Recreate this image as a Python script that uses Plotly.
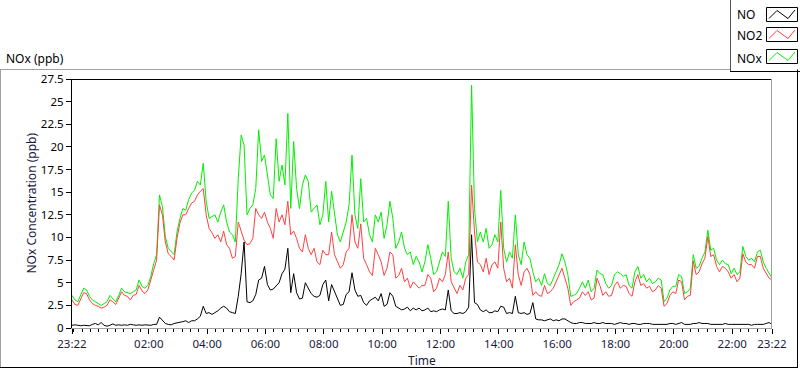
import pandas as pd
import plotly.graph_objects as go

# ---------------- data (6-minute samples from 23:22) ----------------
start_time = "2024-01-01 23:22"
sample_minutes = 6

nox_ppb = [
    3.6, 3.1, 2.9, 3.6, 4.4, 4.2, 3.5, 3.1, 2.9, 2.7,
    2.5, 2.7, 2.9, 3.6, 3.3, 2.9, 3.6, 4.4, 4.0, 3.9,
    3.8, 4.0, 4.2, 5.3, 4.6, 4.4, 4.7, 5.7, 7.1, 8.1,
    14.7, 13.4, 10.1, 8.8, 8.4, 8.1, 10.6, 12.1, 13.2, 13.0,
    14.2, 14.9, 15.2, 16.2, 15.8, 18.2, 14.0, 12.1, 12.3, 12.5,
    11.7, 12.8, 13.6, 11.7, 10.6, 10.3, 9.5, 16.5, 21.3, 20.2,
    12.5, 13.2, 13.6, 15.4, 21.9, 18.4, 19.1, 16.9, 14.7, 14.3,
    20.9, 16.2, 18.0, 15.8, 23.7, 13.2, 20.6, 15.4, 13.2, 15.8,
    16.9, 16.2, 12.8, 13.2, 13.6, 11.4, 12.5, 16.2, 11.7, 15.1,
    12.8, 10.3, 9.5, 10.6, 11.7, 13.6, 19.1, 12.5, 11.0, 16.5,
    11.7, 12.1, 10.3, 9.5, 12.5, 11.7, 12.8, 9.9, 11.4, 14.0,
    12.1, 8.8, 9.5, 10.6, 8.8, 8.1, 8.4, 7.0, 7.9, 7.3,
    6.2, 7.3, 9.2, 7.7, 5.9, 6.2, 7.3, 8.4, 7.9, 14.0,
    7.7, 6.2, 5.9, 6.6, 5.5, 7.3, 8.1, 26.8, 13.2, 9.5,
    10.6, 9.5, 11.0, 8.8, 9.2, 10.3, 9.5, 15.2, 8.8, 7.3,
    8.4, 7.7, 12.5, 8.1, 7.0, 9.5, 8.1, 7.7, 6.2, 5.1,
    5.5, 4.7, 6.0, 4.9, 4.7, 5.5, 6.2, 7.0, 8.2, 7.3,
    5.9, 3.5, 3.6, 3.8, 4.4, 5.1, 4.4, 5.3, 4.0, 4.4,
    6.4, 6.0, 5.9, 4.9, 4.4, 4.7, 5.9, 6.2, 6.0, 5.7,
    5.9, 4.7, 4.4, 6.2, 6.8, 5.5, 5.9, 5.1, 5.5, 4.9,
    5.1, 5.5, 5.3, 2.9, 3.3, 4.2, 4.6, 4.6, 5.9, 5.7,
    3.8, 4.0, 4.4, 8.1, 6.6, 6.8, 7.7, 8.4, 10.8, 8.6,
    8.8, 7.5, 7.0, 7.5, 7.1, 7.0, 6.0, 6.6, 5.9, 6.2,
    9.0, 7.9, 7.5, 7.7, 7.3, 8.4, 8.6, 7.3, 6.6, 6.0,
    5.5,
]

no2_ppb = [
    3.1, 2.6, 2.5, 3.2, 3.9, 3.8, 3.1, 2.7, 2.5, 2.4,
    2.2, 2.3, 2.5, 3.1, 2.9, 2.6, 3.3, 4.0, 3.6, 3.5,
    3.1, 3.6, 3.7, 4.7, 4.1, 3.8, 4.2, 5.3, 6.4, 7.5,
    13.6, 12.5, 9.5, 8.2, 7.9, 7.5, 9.9, 11.6, 12.5, 12.5,
    13.2, 13.8, 14.0, 14.7, 15.1, 15.4, 12.5, 11.0, 10.5, 9.9,
    10.3, 9.5, 10.7, 9.2, 8.8, 7.7, 7.9, 11.7, 10.7, 9.7,
    9.2, 9.3, 9.9, 13.2, 12.5, 12.1, 12.8, 11.7, 11.0, 9.9,
    13.2, 11.7, 12.5, 11.4, 14.0, 10.3, 10.7, 9.9, 8.8, 8.4,
    10.3, 8.8, 8.1, 8.8, 7.3, 7.0, 8.6, 8.1, 8.1, 10.6,
    8.1, 7.3, 6.6, 7.0, 8.4, 8.8, 12.5, 9.5, 8.8, 11.5,
    7.7, 7.0, 6.2, 5.8, 8.8, 8.1, 7.3, 5.8, 6.6, 8.4,
    8.1, 5.5, 5.8, 6.6, 5.1, 5.5, 4.4, 5.1, 4.7, 4.4,
    4.7, 4.7, 5.9, 5.5, 4.0, 4.4, 5.5, 5.1, 5.9, 8.4,
    5.1, 4.4, 3.8, 4.7, 4.2, 5.5, 5.9, 15.8, 10.6, 7.3,
    7.0, 6.2, 7.7, 5.9, 7.0, 7.3, 6.6, 11.7, 6.6, 5.1,
    5.5, 4.4, 9.2, 5.9, 4.7, 6.2, 6.6, 5.9, 3.6, 4.0,
    3.6, 3.5, 4.7, 3.8, 4.0, 4.4, 5.1, 5.9, 6.6, 5.5,
    4.4, 2.5, 2.9, 3.1, 3.3, 4.0, 3.6, 4.0, 3.1, 3.3,
    5.5, 4.7, 3.6, 4.0, 3.5, 3.6, 4.7, 5.1, 4.4, 4.7,
    4.6, 3.8, 3.5, 5.1, 5.9, 4.7, 4.9, 4.4, 4.6, 4.0,
    4.2, 4.7, 4.4, 2.4, 2.7, 3.6, 4.0, 3.8, 5.3, 5.1,
    3.1, 3.5, 3.6, 7.4, 5.9, 6.2, 7.1, 7.7, 10.1, 7.9,
    8.1, 6.8, 6.2, 6.8, 6.6, 6.2, 5.5, 5.9, 5.1, 5.5,
    8.2, 7.3, 7.0, 7.0, 6.6, 7.9, 7.9, 6.6, 6.0, 5.5,
    5.3,
]

no_ppb = [
    0.3, 0.35, 0.3, 0.25, 0.3, 0.3, 0.25, 0.4, 0.5, 0.35,
    0.6, 0.3, 0.2, 0.3, 0.45, 0.3, 0.35, 0.3, 0.35, 0.3,
    0.4, 0.35, 0.3, 0.35, 0.3, 0.35, 0.3, 0.3, 0.4, 0.4,
    1.2, 0.8, 0.5, 0.4, 0.35, 0.5, 0.55, 0.6, 0.7, 0.8,
    0.6, 0.8, 0.8, 1.0, 1.3, 2.4, 1.6, 1.7, 1.5, 1.7,
    1.9, 2.2, 2.4, 2.2, 1.8, 1.7, 1.6, 3.5, 6.0, 9.5,
    2.9, 2.8, 3.0, 3.7, 5.3, 5.5, 6.8, 4.8, 4.2, 4.3,
    4.6, 5.0, 6.0, 6.5, 8.8, 3.9, 6.0, 3.9, 3.2, 3.3,
    5.0, 4.4, 3.8, 3.5, 3.4, 3.6, 4.8, 5.3, 3.0, 4.8,
    4.0, 3.2, 2.5, 2.6, 3.7, 4.0, 6.1, 4.2, 3.5, 3.6,
    2.8, 2.5, 3.0, 3.2, 3.4, 3.0, 3.8, 2.4, 2.6, 3.9,
    3.5, 2.4, 2.2, 2.0, 2.1, 2.3, 1.9, 2.2, 2.0, 2.2,
    1.9, 2.0, 2.2, 1.8, 1.9, 1.8, 2.0, 2.1, 2.0, 4.2,
    1.9, 1.6, 1.6, 1.7, 1.6, 1.8, 2.3, 10.3, 2.8, 2.6,
    2.0, 1.8, 2.0, 1.7, 1.7, 1.9, 1.8, 2.4, 2.3, 1.6,
    1.7, 1.6, 3.5, 1.7, 1.6, 1.7, 1.5, 1.6, 2.8, 1.0,
    0.9, 0.9, 0.8, 0.9, 1.0, 0.8, 0.9, 0.8, 1.0, 1.0,
    0.8, 0.6, 0.5, 0.5, 0.6, 0.6, 0.5, 0.5, 0.5, 0.6,
    0.5, 0.5, 0.6, 0.5, 0.5, 0.5, 0.4, 0.5, 0.6, 0.5,
    0.5, 0.4, 0.5, 0.5, 0.4, 0.4, 0.5, 0.5, 0.5, 0.4,
    0.4, 0.4, 0.4, 0.4, 0.4, 0.5, 0.5, 0.4, 0.5, 0.6,
    0.4, 0.4, 0.4, 0.5, 0.5, 0.6, 0.5, 0.5, 0.5, 0.4,
    0.4, 0.4, 0.4, 0.4, 0.5, 0.4, 0.4, 0.4, 0.4, 0.4,
    0.4, 0.4, 0.4, 0.3, 0.4, 0.4, 0.4, 0.4, 0.5, 0.6,
    0.4,
]

series_names = ["NO", "NO2", "NOx"]
series_colors = ["#000000", "#ff4040", "#00f000"]

y_tick_values = [0, 2.5, 5, 7.5, 10, 12.5, 15, 17.5, 20, 22.5, 25, 27.5]
y_tick_labels = ["0", "2.5", "5", "7.5", "10", "12.5", "15", "17.5", "20", "22.5", "25", "27.5"]
x_tick_labels = ["23:22", "02:00", "04:00", "06:00", "08:00", "10:00", "12:00",
                 "14:00", "16:00", "18:00", "20:00", "22:00", "23:22"]

# ---------------- axis helpers ----------------
t0 = pd.Timestamp(start_time)
times = [t0 + pd.Timedelta(minutes=sample_minutes * i) for i in range(len(nox_ppb))]
t_end = times[-1]

major_ticks = [t0] + [pd.Timestamp("2024-01-02 00:00") + pd.Timedelta(hours=h) for h in range(2, 23, 2)] + [t_end]
step = pd.Timedelta(minutes=120 / 7)
anchor = pd.Timestamp("2024-01-02 02:00")
minor_ticks = []
k = -20
while True:
    t = anchor + k * step
    k += 1
    if t > t_end:
        break
    if t <= t0:
        continue
    minor_ticks.append(t)

# ---------------- pixel helpers for decorations ----------------
L, R, T, B = 72, 772, 79, 328
def px(x):
    return (x - L) / (R - L)
def py(y):
    return (B - y) / (B - T)

fig = go.Figure()
fig.add_trace(go.Scatter(x=times, y=nox_ppb, name=series_names[2], mode="lines",
                         line=dict(color=series_colors[2], width=1)))
fig.add_trace(go.Scatter(x=times, y=no2_ppb, name=series_names[1], mode="lines",
                         line=dict(color=series_colors[1], width=1)))
fig.add_trace(go.Scatter(x=times, y=no_ppb, name=series_names[0], mode="lines",
                         line=dict(color=series_colors[0], width=1)))

shapes = []
def line(x0, y0, x1, y1, color):
    shapes.append(dict(type="line", xref="paper", yref="paper",
                       x0=px(x0), y0=py(y0), x1=px(x1), y1=py(y1),
                       line=dict(color=color, width=1), layer="above"))

# plot frame (top/left dark, bottom/right light)
line(L, T + 0.5, R, T + 0.5, "#000000")
line(R - 0.5, T, R - 0.5, B, "#a0a0a0")
# outer frame
line(0, 69.5, 730, 69.5, "#a0a0a0")
line(0.5, 69.5, 0.5, 368, "#a0a0a0")
line(0, 367.5, 798, 367.5, "#000000")
line(797.5, 69.5, 797.5, 368, "#000000")
# legend frame
line(730.5, 0, 730.5, 72, "#555555")
line(730, 71.5, 800, 71.5, "#000000")

annotations = [
    dict(text="NOx (ppb)", x=px(4), y=py(59), xref="paper", yref="paper",
         xanchor="left", yanchor="middle", showarrow=False, font=dict(size=12)),
    dict(text="NOx Concentration (ppb)", x=px(31), y=py(203.5), xref="paper", yref="paper",
         xanchor="center", yanchor="middle", textangle=-90, showarrow=False,
         font=dict(size=12, color="#1a1a40")),
    dict(text="Time", x=px(422), y=py(360), xref="paper", yref="paper",
         xanchor="center", yanchor="middle", showarrow=False, font=dict(size=12, color="#1a1a40")),
]

# custom legend entries
legend_rows = [14, 35, 58]
box_tops = [7.5, 27.5, 49.5]
for name, color, ty, bt in zip(series_names, series_colors, legend_rows, box_tops):
    annotations.append(dict(text=name, x=px(735), y=py(ty), xref="paper", yref="paper",
                            xanchor="left", yanchor="middle", showarrow=False,
                            font=dict(size=12, color="#000000")))
    shapes.append(dict(type="rect", xref="paper", yref="paper",
                       x0=px(766.5), x1=px(797.5), y0=py(bt), y1=py(bt + 14),
                       line=dict(color="#000000", width=1), fillcolor="white", layer="above"))
    pts = [(769, bt + 11), (777, bt + 3), (788, bt + 11), (795, bt + 2.5)]
    path = "M " + " L ".join(f"{px(a):.5f},{py(b):.5f}" for a, b in pts)
    shapes.append(dict(type="path", xref="paper", yref="paper", path=path,
                       line=dict(color=color, width=1), layer="above"))

fig.update_layout(
    width=800, height=369,
    margin=dict(l=L, r=800 - R, t=T, b=369 - B),
    paper_bgcolor="white", plot_bgcolor="white",
    showlegend=False,
    font=dict(family="Noto Sans", size=12, color="#000000"),
    shapes=shapes, annotations=annotations,
    xaxis=dict(type="date", range=[t0, t_end], tickmode="array",
               tickvals=major_ticks, ticktext=x_tick_labels,
               ticks="outside", ticklen=5, tickcolor="#000000", tickwidth=1,
               tickfont=dict(size=11.5, color="#1a1a40"),
               showgrid=False, zeroline=False,
               showline=True, linecolor="#a0a0a0", linewidth=1,
               minor=dict(tickmode="array", tickvals=minor_ticks, ticks="outside",
                          ticklen=3, tickcolor="#000000", tickwidth=1, showgrid=False)),
    yaxis=dict(range=[0, 27.5], tickmode="array", tickvals=y_tick_values, ticktext=y_tick_labels,
               ticks="outside", ticklen=5, tickcolor="#000000", tickwidth=1,
               tickfont=dict(size=11.5, color="#000000"),
               showgrid=False, zeroline=False,
               showline=True, linecolor="#000000", linewidth=1),
)

fig.write_html("out.html", config={"displayModeBar": False},
               post_script="document.body.style.margin='0';document.body.style.padding='0';")
